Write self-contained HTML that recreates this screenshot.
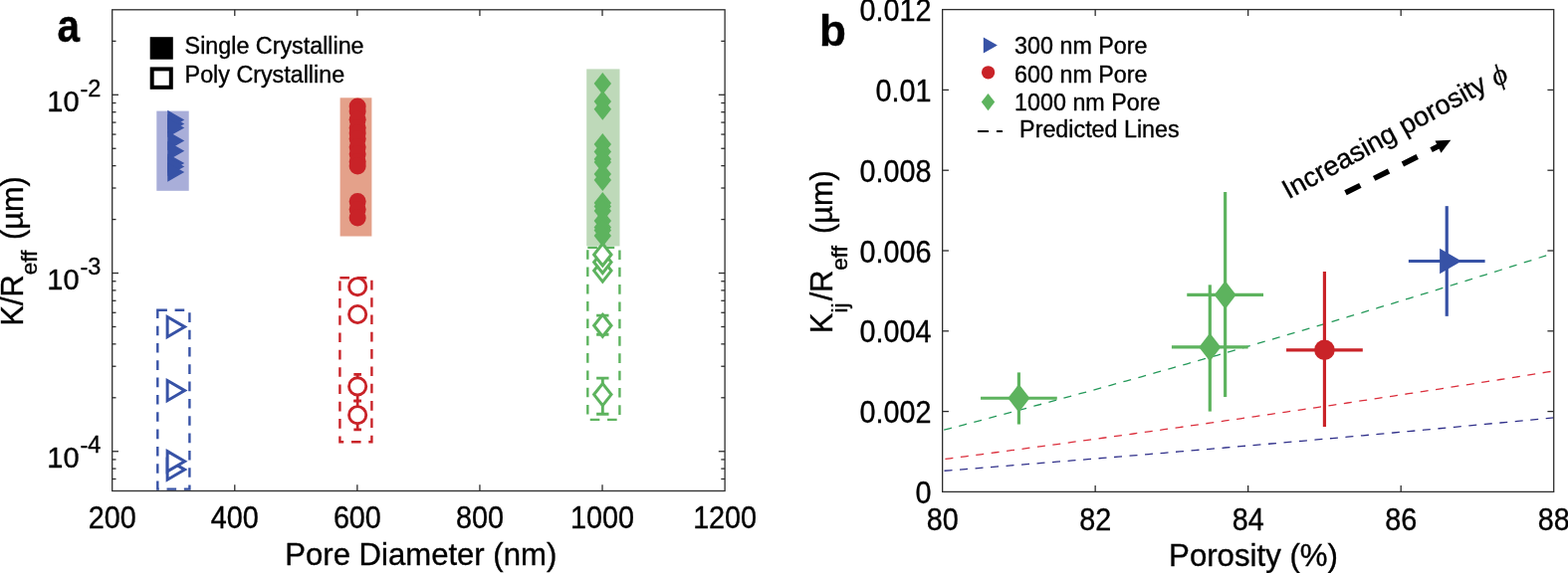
<!DOCTYPE html><html><head><meta charset="utf-8"><title>Figure</title><style>html,body{margin:0;padding:0;background:#fff;overflow:hidden}svg{display:block}text{font-family:"Liberation Sans", Arial, Helvetica, sans-serif;stroke:#000;stroke-width:0.35px;paint-order:stroke}</style></head><body>
<svg width="1575" height="576" viewBox="0 0 1575 576">
<rect width="1575" height="576" fill="#fff"/>
<defs><clipPath id="ca"><rect x="112.7" y="9.8" width="615.4" height="483.7"/></clipPath><clipPath id="cb"><rect x="946.65" y="9.6" width="614.0500000000001" height="484.79999999999995"/></clipPath></defs>
<g clip-path="url(#ca)">
<rect x="157.3" y="111.6" width="32.4" height="80.2" fill="#a9aed9"/>
<rect x="341.6" y="98.3" width="31.8" height="139.2" fill="#e4a18a"/>
<rect x="589.2" y="69.4" width="33.3" height="178" fill="#bed9b9"/>
<rect x="158.3" y="311.8" width="32.1" height="179.8" fill="none" stroke="#3752a6" stroke-width="2.4" stroke-dasharray="9.6 7.72"/>
<rect x="341.4" y="279.2" width="32" height="165" fill="none" stroke="#c92328" stroke-width="2.4" stroke-dasharray="9.6 7.72"/>
<rect x="590.3" y="248.9" width="32.1" height="173" fill="none" stroke="#5db35e" stroke-width="2.4" stroke-dasharray="9.6 7.72"/>
<polygon points="168.24,110.8 185.24,120.5 168.24,130.2" fill="#3752a6"/>
<polygon points="168.24,114.8 185.24,124.5 168.24,134.2" fill="#3752a6"/>
<polygon points="168.24,118.7 185.24,128.4 168.24,138.1" fill="#3752a6"/>
<polygon points="168.24,131.8 185.24,141.5 168.24,151.2" fill="#3752a6"/>
<polygon points="168.24,142 185.24,151.7 168.24,161.4" fill="#3752a6"/>
<polygon points="168.24,154.4 185.24,164.1 168.24,173.8" fill="#3752a6"/>
<polygon points="168.24,157.7 185.24,167.4 168.24,177.1" fill="#3752a6"/>
<polygon points="168.24,163.4 185.24,173.1 168.24,182.8" fill="#3752a6"/>
<polygon points="168.14,462 185.54,472.1 168.14,482.2" fill="#fff" stroke="#3752a6" stroke-width="3.0" stroke-miterlimit="10"/>
<polygon points="168.14,453.65 185.54,463.75 168.14,473.85" fill="#fff" stroke="#3752a6" stroke-width="3.0" stroke-miterlimit="10"/>
<polygon points="168.14,382.5 185.54,392.6 168.14,402.7" fill="#fff" stroke="#3752a6" stroke-width="3.0" stroke-miterlimit="10"/>
<polygon points="168.14,318.5 185.54,328.6 168.14,338.7" fill="#fff" stroke="#3752a6" stroke-width="3.0" stroke-miterlimit="10"/>
<circle cx="359.16" cy="107" r="8.5" fill="#c92328"/>
<circle cx="359.16" cy="112" r="8.5" fill="#c92328"/>
<circle cx="359.16" cy="120.3" r="8.5" fill="#c92328"/>
<circle cx="359.16" cy="128.6" r="8.5" fill="#c92328"/>
<circle cx="359.16" cy="134" r="8.5" fill="#c92328"/>
<circle cx="359.16" cy="139.5" r="8.5" fill="#c92328"/>
<circle cx="359.16" cy="147.8" r="8.5" fill="#c92328"/>
<circle cx="359.16" cy="154.75" r="8.5" fill="#c92328"/>
<circle cx="359.16" cy="162.4" r="8.5" fill="#c92328"/>
<circle cx="359.16" cy="167" r="8.5" fill="#c92328"/>
<circle cx="359.16" cy="202.6" r="8.5" fill="#c92328"/>
<circle cx="359.16" cy="210.5" r="8.5" fill="#c92328"/>
<circle cx="359.16" cy="219" r="8.5" fill="#c92328"/>
<line x1="359.16" y1="376.3" x2="359.16" y2="403" stroke="#c92328" stroke-width="2.7"/>
<line x1="355.36" y1="376.3" x2="362.96" y2="376.3" stroke="#c92328" stroke-width="2.7"/>
<line x1="355.36" y1="403" x2="362.96" y2="403" stroke="#c92328" stroke-width="2.7"/>
<line x1="359.16" y1="403" x2="359.16" y2="431.8" stroke="#c92328" stroke-width="2.7"/>
<line x1="355.36" y1="403" x2="362.96" y2="403" stroke="#c92328" stroke-width="2.7"/>
<line x1="355.36" y1="431.8" x2="362.96" y2="431.8" stroke="#c92328" stroke-width="2.7"/>
<circle cx="359.16" cy="417.2" r="8.6" fill="#fff" stroke="#c92328" stroke-width="2.9"/>
<circle cx="359.16" cy="388.4" r="8.6" fill="#fff" stroke="#c92328" stroke-width="2.9"/>
<circle cx="359.16" cy="316" r="8.6" fill="#fff" stroke="#c92328" stroke-width="2.9"/>
<circle cx="359.16" cy="288.2" r="8.6" fill="#fff" stroke="#c92328" stroke-width="2.9"/>
<polygon points="605.32,73.1 614.02,84.1 605.32,95.1 596.62,84.1" fill="#5db35e"/>
<polygon points="605.32,90.9 614.02,101.9 605.32,112.9 596.62,101.9" fill="#5db35e"/>
<polygon points="605.32,98.7 614.02,109.7 605.32,120.7 596.62,109.7" fill="#5db35e"/>
<polygon points="605.32,134 614.02,145 605.32,156 596.62,145" fill="#5db35e"/>
<polygon points="605.32,141.6 614.02,152.6 605.32,163.6 596.62,152.6" fill="#5db35e"/>
<polygon points="605.32,149 614.02,160 605.32,171 596.62,160" fill="#5db35e"/>
<polygon points="605.32,152 614.02,163 605.32,174 596.62,163" fill="#5db35e"/>
<polygon points="605.32,164 614.02,175 605.32,186 596.62,175" fill="#5db35e"/>
<polygon points="605.32,170 614.02,181 605.32,192 596.62,181" fill="#5db35e"/>
<polygon points="605.32,193 614.02,204 605.32,215 596.62,204" fill="#5db35e"/>
<polygon points="605.32,196.5 614.02,207.5 605.32,218.5 596.62,207.5" fill="#5db35e"/>
<polygon points="605.32,201 614.02,212 605.32,223 596.62,212" fill="#5db35e"/>
<polygon points="605.32,211 614.02,222 605.32,233 596.62,222" fill="#5db35e"/>
<polygon points="605.32,217.5 614.02,228.5 605.32,239.5 596.62,228.5" fill="#5db35e"/>
<polygon points="605.32,220.5 614.02,231.5 605.32,242.5 596.62,231.5" fill="#5db35e"/>
<polygon points="605.32,226 614.02,237 605.32,248 596.62,237" fill="#5db35e"/>
<line x1="605.32" y1="317.1" x2="605.32" y2="336.3" stroke="#5db35e" stroke-width="2.9"/>
<line x1="599.12" y1="317.1" x2="611.52" y2="317.1" stroke="#5db35e" stroke-width="2.9"/>
<line x1="599.12" y1="336.3" x2="611.52" y2="336.3" stroke="#5db35e" stroke-width="2.9"/>
<line x1="605.32" y1="380.1" x2="605.32" y2="416.3" stroke="#5db35e" stroke-width="2.9"/>
<line x1="599.12" y1="380.1" x2="611.52" y2="380.1" stroke="#5db35e" stroke-width="2.9"/>
<line x1="599.12" y1="416.3" x2="611.52" y2="416.3" stroke="#5db35e" stroke-width="2.9"/>
<polygon points="605.32,385.6 614.02,396.6 605.32,407.6 596.62,396.6" fill="#fff" stroke="#5db35e" stroke-width="3.0" stroke-miterlimit="10"/>
<polygon points="605.32,316.3 614.02,327.3 605.32,338.3 596.62,327.3" fill="#fff" stroke="#5db35e" stroke-width="3.0" stroke-miterlimit="10"/>
<polygon points="605.32,261.1 614.02,272.1 605.32,283.1 596.62,272.1" fill="#fff" stroke="#5db35e" stroke-width="3.0" stroke-miterlimit="10"/>
<polygon points="605.32,252.5 614.02,263.5 605.32,274.5 596.62,263.5" fill="#fff" stroke="#5db35e" stroke-width="3.0" stroke-miterlimit="10"/>
<polygon points="605.32,245 614.02,256 605.32,267 596.62,256" fill="#fff" stroke="#5db35e" stroke-width="3.0" stroke-miterlimit="10"/>
</g>
<rect x="112.7" y="9.8" width="615.4" height="483.7" fill="none" stroke="#2e2e2e" stroke-width="1.3"/>
<text transform="translate(112.7,531.4) scale(0.975,1.045)" font-size="29.5" text-anchor="middle" fill="#000">200</text>
<line x1="235.78" y1="493.5" x2="235.78" y2="487.2" stroke="#2e2e2e" stroke-width="1.3"/>
<line x1="235.78" y1="9.8" x2="235.78" y2="16.1" stroke="#2e2e2e" stroke-width="1.3"/>
<text transform="translate(235.78,531.4) scale(0.975,1.045)" font-size="29.5" text-anchor="middle" fill="#000">400</text>
<line x1="358.86" y1="493.5" x2="358.86" y2="487.2" stroke="#2e2e2e" stroke-width="1.3"/>
<line x1="358.86" y1="9.8" x2="358.86" y2="16.1" stroke="#2e2e2e" stroke-width="1.3"/>
<text transform="translate(358.86,531.4) scale(0.975,1.045)" font-size="29.5" text-anchor="middle" fill="#000">600</text>
<line x1="481.94" y1="493.5" x2="481.94" y2="487.2" stroke="#2e2e2e" stroke-width="1.3"/>
<line x1="481.94" y1="9.8" x2="481.94" y2="16.1" stroke="#2e2e2e" stroke-width="1.3"/>
<text transform="translate(481.94,531.4) scale(0.975,1.045)" font-size="29.5" text-anchor="middle" fill="#000">800</text>
<line x1="605.02" y1="493.5" x2="605.02" y2="487.2" stroke="#2e2e2e" stroke-width="1.3"/>
<line x1="605.02" y1="9.8" x2="605.02" y2="16.1" stroke="#2e2e2e" stroke-width="1.3"/>
<text transform="translate(605.02,531.4) scale(0.975,1.045)" font-size="29.5" text-anchor="middle" fill="#000">1000</text>
<text transform="translate(728.1,531.4) scale(0.975,1.045)" font-size="29.5" text-anchor="middle" fill="#000">1200</text>
<line x1="112.7" y1="453.74" x2="119" y2="453.74" stroke="#2e2e2e" stroke-width="1.3"/>
<line x1="728.1" y1="453.74" x2="721.8" y2="453.74" stroke="#2e2e2e" stroke-width="1.3"/>
<text transform="translate(47.3,470.24) scale(0.985,1.01)" font-size="29.5" fill="#000">10</text>
<text x="80.4" y="455.14" font-size="23.5" fill="#000">-4</text>
<line x1="112.7" y1="274.52" x2="119" y2="274.52" stroke="#2e2e2e" stroke-width="1.3"/>
<line x1="728.1" y1="274.52" x2="721.8" y2="274.52" stroke="#2e2e2e" stroke-width="1.3"/>
<text transform="translate(47.3,291.02) scale(0.985,1.01)" font-size="29.5" fill="#000">10</text>
<text x="80.4" y="275.92" font-size="23.5" fill="#000">-3</text>
<line x1="112.7" y1="95.31" x2="119" y2="95.31" stroke="#2e2e2e" stroke-width="1.3"/>
<line x1="728.1" y1="95.31" x2="721.8" y2="95.31" stroke="#2e2e2e" stroke-width="1.3"/>
<text transform="translate(47.3,111.81) scale(0.985,1.01)" font-size="29.5" fill="#000">10</text>
<text x="80.4" y="96.71" font-size="23.5" fill="#000">-2</text>
<line x1="112.7" y1="481.5" x2="116.5" y2="481.5" stroke="#2e2e2e" stroke-width="1.3"/>
<line x1="728.1" y1="481.5" x2="724.3" y2="481.5" stroke="#2e2e2e" stroke-width="1.3"/>
<line x1="112.7" y1="471.11" x2="116.5" y2="471.11" stroke="#2e2e2e" stroke-width="1.3"/>
<line x1="728.1" y1="471.11" x2="724.3" y2="471.11" stroke="#2e2e2e" stroke-width="1.3"/>
<line x1="112.7" y1="461.94" x2="116.5" y2="461.94" stroke="#2e2e2e" stroke-width="1.3"/>
<line x1="728.1" y1="461.94" x2="724.3" y2="461.94" stroke="#2e2e2e" stroke-width="1.3"/>
<line x1="112.7" y1="399.79" x2="116.5" y2="399.79" stroke="#2e2e2e" stroke-width="1.3"/>
<line x1="728.1" y1="399.79" x2="724.3" y2="399.79" stroke="#2e2e2e" stroke-width="1.3"/>
<line x1="112.7" y1="368.23" x2="116.5" y2="368.23" stroke="#2e2e2e" stroke-width="1.3"/>
<line x1="728.1" y1="368.23" x2="724.3" y2="368.23" stroke="#2e2e2e" stroke-width="1.3"/>
<line x1="112.7" y1="345.84" x2="116.5" y2="345.84" stroke="#2e2e2e" stroke-width="1.3"/>
<line x1="728.1" y1="345.84" x2="724.3" y2="345.84" stroke="#2e2e2e" stroke-width="1.3"/>
<line x1="112.7" y1="328.47" x2="116.5" y2="328.47" stroke="#2e2e2e" stroke-width="1.3"/>
<line x1="728.1" y1="328.47" x2="724.3" y2="328.47" stroke="#2e2e2e" stroke-width="1.3"/>
<line x1="112.7" y1="314.28" x2="116.5" y2="314.28" stroke="#2e2e2e" stroke-width="1.3"/>
<line x1="728.1" y1="314.28" x2="724.3" y2="314.28" stroke="#2e2e2e" stroke-width="1.3"/>
<line x1="112.7" y1="302.29" x2="116.5" y2="302.29" stroke="#2e2e2e" stroke-width="1.3"/>
<line x1="728.1" y1="302.29" x2="724.3" y2="302.29" stroke="#2e2e2e" stroke-width="1.3"/>
<line x1="112.7" y1="291.89" x2="116.5" y2="291.89" stroke="#2e2e2e" stroke-width="1.3"/>
<line x1="728.1" y1="291.89" x2="724.3" y2="291.89" stroke="#2e2e2e" stroke-width="1.3"/>
<line x1="112.7" y1="282.73" x2="116.5" y2="282.73" stroke="#2e2e2e" stroke-width="1.3"/>
<line x1="728.1" y1="282.73" x2="724.3" y2="282.73" stroke="#2e2e2e" stroke-width="1.3"/>
<line x1="112.7" y1="220.57" x2="116.5" y2="220.57" stroke="#2e2e2e" stroke-width="1.3"/>
<line x1="728.1" y1="220.57" x2="724.3" y2="220.57" stroke="#2e2e2e" stroke-width="1.3"/>
<line x1="112.7" y1="189.02" x2="116.5" y2="189.02" stroke="#2e2e2e" stroke-width="1.3"/>
<line x1="728.1" y1="189.02" x2="724.3" y2="189.02" stroke="#2e2e2e" stroke-width="1.3"/>
<line x1="112.7" y1="166.63" x2="116.5" y2="166.63" stroke="#2e2e2e" stroke-width="1.3"/>
<line x1="728.1" y1="166.63" x2="724.3" y2="166.63" stroke="#2e2e2e" stroke-width="1.3"/>
<line x1="112.7" y1="149.26" x2="116.5" y2="149.26" stroke="#2e2e2e" stroke-width="1.3"/>
<line x1="728.1" y1="149.26" x2="724.3" y2="149.26" stroke="#2e2e2e" stroke-width="1.3"/>
<line x1="112.7" y1="135.07" x2="116.5" y2="135.07" stroke="#2e2e2e" stroke-width="1.3"/>
<line x1="728.1" y1="135.07" x2="724.3" y2="135.07" stroke="#2e2e2e" stroke-width="1.3"/>
<line x1="112.7" y1="123.07" x2="116.5" y2="123.07" stroke="#2e2e2e" stroke-width="1.3"/>
<line x1="728.1" y1="123.07" x2="724.3" y2="123.07" stroke="#2e2e2e" stroke-width="1.3"/>
<line x1="112.7" y1="112.68" x2="116.5" y2="112.68" stroke="#2e2e2e" stroke-width="1.3"/>
<line x1="728.1" y1="112.68" x2="724.3" y2="112.68" stroke="#2e2e2e" stroke-width="1.3"/>
<line x1="112.7" y1="103.51" x2="116.5" y2="103.51" stroke="#2e2e2e" stroke-width="1.3"/>
<line x1="728.1" y1="103.51" x2="724.3" y2="103.51" stroke="#2e2e2e" stroke-width="1.3"/>
<line x1="112.7" y1="41.36" x2="116.5" y2="41.36" stroke="#2e2e2e" stroke-width="1.3"/>
<line x1="728.1" y1="41.36" x2="724.3" y2="41.36" stroke="#2e2e2e" stroke-width="1.3"/>
<rect x="150.7" y="37.2" width="23.1" height="22.5" fill="#000"/>
<rect x="152.7" y="69.4" width="19.1" height="18.4" fill="none" stroke="#000" stroke-width="4"/>
<text x="185.6" y="54" font-size="23.3" fill="#000">Single Crystalline</text>
<text x="185.6" y="82.6" font-size="23.3" fill="#000">Poly Crystalline</text>
<text transform="translate(57.6,42.3) scale(0.92,1.03)" font-size="44" font-weight="bold" fill="#000">a</text>
<text x="422.75" y="567.5" font-size="31.1" text-anchor="middle" fill="#000">Pore Diameter (nm)</text>
<text transform="translate(22.8,327.5) rotate(-90)" font-size="30.7" fill="#000">K/R<tspan font-size="22.5" dy="14.5">eff</tspan><tspan dy="-14.5" dx="2.3"> (µm)</tspan></text>
<g clip-path="url(#cb)">
<path d="M946.65,432.59 L954.33,430.59 L962,428.59 L969.68,426.58 L977.35,424.56 L985.03,422.54 L992.7,420.51 L1000.38,418.48 L1008.05,416.44 L1015.73,414.4 L1023.41,412.35 L1031.08,410.29 L1038.76,408.23 L1046.43,406.17 L1054.11,404.09 L1061.78,402.01 L1069.46,399.93 L1077.14,397.84 L1084.81,395.74 L1092.49,393.64 L1100.16,391.53 L1107.84,389.42 L1115.51,387.3 L1123.19,385.17 L1130.87,383.04 L1138.54,380.9 L1146.22,378.76 L1153.89,376.61 L1161.57,374.46 L1169.24,372.3 L1176.92,370.13 L1184.59,367.96 L1192.27,365.78 L1199.95,363.6 L1207.62,361.41 L1215.3,359.21 L1222.97,357.01 L1230.65,354.81 L1238.32,352.59 L1246,350.38 L1253.67,348.15 L1261.35,345.92 L1269.03,343.69 L1276.7,341.44 L1284.38,339.2 L1292.05,336.94 L1299.73,334.69 L1307.4,332.42 L1315.08,330.15 L1322.76,327.87 L1330.43,325.59 L1338.11,323.3 L1345.78,321.01 L1353.46,318.71 L1361.13,316.4 L1368.81,314.09 L1376.48,311.78 L1384.16,309.45 L1391.84,307.12 L1399.51,304.79 L1407.19,302.45 L1414.86,300.1 L1422.54,297.75 L1430.21,295.39 L1437.89,293.03 L1445.57,290.66 L1453.24,288.29 L1460.92,285.9 L1468.59,283.52 L1476.27,281.13 L1483.94,278.73 L1491.62,276.32 L1499.3,273.91 L1506.97,271.5 L1514.65,269.08 L1522.32,266.65 L1530,264.21 L1537.67,261.78 L1545.35,259.33 L1553.02,256.88 L1560.7,254.42" fill="none" stroke="#25995a" stroke-width="1.3" stroke-dasharray="8 7.55" stroke-dashoffset="-1.6"/>
<path d="M946.65,461.8 L954.33,460.8 L962,459.8 L969.68,458.79 L977.35,457.79 L985.03,456.78 L992.7,455.77 L1000.38,454.75 L1008.05,453.73 L1015.73,452.71 L1023.41,451.69 L1031.08,450.66 L1038.76,449.63 L1046.43,448.6 L1054.11,447.56 L1061.78,446.53 L1069.46,445.49 L1077.14,444.44 L1084.81,443.4 L1092.49,442.35 L1100.16,441.29 L1107.84,440.24 L1115.51,439.18 L1123.19,438.12 L1130.87,437.06 L1138.54,435.99 L1146.22,434.92 L1153.89,433.85 L1161.57,432.78 L1169.24,431.7 L1176.92,430.62 L1184.59,429.54 L1192.27,428.45 L1199.95,427.36 L1207.62,426.27 L1215.3,425.17 L1222.97,424.08 L1230.65,422.98 L1238.32,421.87 L1246,420.77 L1253.67,419.66 L1261.35,418.55 L1269.03,417.43 L1276.7,416.32 L1284.38,415.2 L1292.05,414.07 L1299.73,412.95 L1307.4,411.82 L1315.08,410.69 L1322.76,409.56 L1330.43,408.42 L1338.11,407.28 L1345.78,406.14 L1353.46,404.99 L1361.13,403.84 L1368.81,402.69 L1376.48,401.54 L1384.16,400.38 L1391.84,399.22 L1399.51,398.06 L1407.19,396.89 L1414.86,395.73 L1422.54,394.56 L1430.21,393.38 L1437.89,392.21 L1445.57,391.03 L1453.24,389.84 L1460.92,388.66 L1468.59,387.47 L1476.27,386.28 L1483.94,385.09 L1491.62,383.89 L1499.3,382.69 L1506.97,381.49 L1514.65,380.29 L1522.32,379.08 L1530,377.87 L1537.67,376.65 L1545.35,375.44 L1553.02,374.22 L1560.7,373" fill="none" stroke="#db2f3c" stroke-width="1.3" stroke-dasharray="8 7.55" stroke-dashoffset="-2.8"/>
<path d="M946.65,473.39 L954.33,472.79 L962,472.19 L969.68,471.59 L977.35,470.98 L985.03,470.37 L992.7,469.76 L1000.38,469.15 L1008.05,468.54 L1015.73,467.93 L1023.41,467.31 L1031.08,466.69 L1038.76,466.07 L1046.43,465.45 L1054.11,464.83 L1061.78,464.2 L1069.46,463.58 L1077.14,462.95 L1084.81,462.32 L1092.49,461.69 L1100.16,461.05 L1107.84,460.42 L1115.51,459.78 L1123.19,459.14 L1130.87,458.5 L1138.54,457.86 L1146.22,457.22 L1153.89,456.57 L1161.57,455.92 L1169.24,455.28 L1176.92,454.62 L1184.59,453.97 L1192.27,453.32 L1199.95,452.66 L1207.62,452 L1215.3,451.34 L1222.97,450.68 L1230.65,450.02 L1238.32,449.36 L1246,448.69 L1253.67,448.02 L1261.35,447.35 L1269.03,446.68 L1276.7,446.01 L1284.38,445.33 L1292.05,444.65 L1299.73,443.97 L1307.4,443.29 L1315.08,442.61 L1322.76,441.93 L1330.43,441.24 L1338.11,440.56 L1345.78,439.87 L1353.46,439.17 L1361.13,438.48 L1368.81,437.79 L1376.48,437.09 L1384.16,436.39 L1391.84,435.69 L1399.51,434.99 L1407.19,434.29 L1414.86,433.59 L1422.54,432.88 L1430.21,432.17 L1437.89,431.46 L1445.57,430.75 L1453.24,430.03 L1460.92,429.32 L1468.59,428.6 L1476.27,427.88 L1483.94,427.16 L1491.62,426.44 L1499.3,425.72 L1506.97,424.99 L1514.65,424.26 L1522.32,423.53 L1530,422.8 L1537.67,422.07 L1545.35,421.34 L1553.02,420.6 L1560.7,419.86" fill="none" stroke="#30308a" stroke-width="1.3" stroke-dasharray="8 7.55" stroke-dashoffset="-1.9"/>
</g>
<line x1="1023.41" y1="426.53" x2="1023.41" y2="374.41" stroke="#5db35e" stroke-width="3.2"/>
<line x1="985.03" y1="400.27" x2="1061.78" y2="400.27" stroke="#5db35e" stroke-width="3.2"/>
<line x1="1215.3" y1="413.6" x2="1215.3" y2="286.34" stroke="#5db35e" stroke-width="3.2"/>
<line x1="1176.92" y1="348.96" x2="1253.67" y2="348.96" stroke="#5db35e" stroke-width="3.2"/>
<line x1="1230.65" y1="399.06" x2="1230.65" y2="193.02" stroke="#5db35e" stroke-width="3.2"/>
<line x1="1192.27" y1="296.44" x2="1269.03" y2="296.44" stroke="#5db35e" stroke-width="3.2"/>
<line x1="1330.43" y1="428.95" x2="1330.43" y2="273.01" stroke="#c92328" stroke-width="3.2"/>
<line x1="1292.05" y1="351.79" x2="1368.81" y2="351.79" stroke="#c92328" stroke-width="3.2"/>
<line x1="1453.24" y1="317.85" x2="1453.24" y2="207.16" stroke="#3752a6" stroke-width="3.2"/>
<line x1="1414.86" y1="262.5" x2="1491.62" y2="262.5" stroke="#3752a6" stroke-width="3.2"/>
<polygon points="1023.41,386.07 1034.41,400.27 1023.41,414.47 1012.41,400.27" fill="#5db35e"/>
<polygon points="1215.3,334.76 1226.3,348.96 1215.3,363.16 1204.3,348.96" fill="#5db35e"/>
<polygon points="1230.65,282.24 1241.65,296.44 1230.65,310.64 1219.65,296.44" fill="#5db35e"/>
<circle cx="1330.43" cy="351.79" r="10.3" fill="#c92328"/>
<polygon points="1446.14,249.8 1468.14,262.5 1446.14,275.2" fill="#3752a6"/>
<rect x="946.65" y="9.6" width="614.05" height="484.8" fill="none" stroke="#2e2e2e" stroke-width="1.3"/>
<text transform="translate(946.65,532.6) scale(0.975,1.045)" font-size="29.5" text-anchor="middle" fill="#000">80</text>
<line x1="1100.16" y1="494.4" x2="1100.16" y2="488.1" stroke="#2e2e2e" stroke-width="1.3"/>
<line x1="1100.16" y1="9.6" x2="1100.16" y2="15.9" stroke="#2e2e2e" stroke-width="1.3"/>
<text transform="translate(1100.16,532.6) scale(0.975,1.045)" font-size="29.5" text-anchor="middle" fill="#000">82</text>
<line x1="1253.67" y1="494.4" x2="1253.67" y2="488.1" stroke="#2e2e2e" stroke-width="1.3"/>
<line x1="1253.67" y1="9.6" x2="1253.67" y2="15.9" stroke="#2e2e2e" stroke-width="1.3"/>
<text transform="translate(1253.67,532.6) scale(0.975,1.045)" font-size="29.5" text-anchor="middle" fill="#000">84</text>
<line x1="1407.19" y1="494.4" x2="1407.19" y2="488.1" stroke="#2e2e2e" stroke-width="1.3"/>
<line x1="1407.19" y1="9.6" x2="1407.19" y2="15.9" stroke="#2e2e2e" stroke-width="1.3"/>
<text transform="translate(1407.19,532.6) scale(0.975,1.045)" font-size="29.5" text-anchor="middle" fill="#000">86</text>
<text transform="translate(1560.7,532.6) scale(0.975,1.045)" font-size="29.5" text-anchor="middle" fill="#000">88</text>
<text transform="translate(935.5,505.9) scale(0.975,1.045)" font-size="29.5" text-anchor="end" fill="#000">0</text>
<line x1="946.65" y1="413.6" x2="952.95" y2="413.6" stroke="#2e2e2e" stroke-width="1.3"/>
<line x1="1560.7" y1="413.6" x2="1554.4" y2="413.6" stroke="#2e2e2e" stroke-width="1.3"/>
<text transform="translate(935.5,425.1) scale(0.975,1.045)" font-size="29.5" text-anchor="end" fill="#000">0.002</text>
<line x1="946.65" y1="332.8" x2="952.95" y2="332.8" stroke="#2e2e2e" stroke-width="1.3"/>
<line x1="1560.7" y1="332.8" x2="1554.4" y2="332.8" stroke="#2e2e2e" stroke-width="1.3"/>
<text transform="translate(935.5,344.3) scale(0.975,1.045)" font-size="29.5" text-anchor="end" fill="#000">0.004</text>
<line x1="946.65" y1="252" x2="952.95" y2="252" stroke="#2e2e2e" stroke-width="1.3"/>
<line x1="1560.7" y1="252" x2="1554.4" y2="252" stroke="#2e2e2e" stroke-width="1.3"/>
<text transform="translate(935.5,263.5) scale(0.975,1.045)" font-size="29.5" text-anchor="end" fill="#000">0.006</text>
<line x1="946.65" y1="171.2" x2="952.95" y2="171.2" stroke="#2e2e2e" stroke-width="1.3"/>
<line x1="1560.7" y1="171.2" x2="1554.4" y2="171.2" stroke="#2e2e2e" stroke-width="1.3"/>
<text transform="translate(935.5,182.7) scale(0.975,1.045)" font-size="29.5" text-anchor="end" fill="#000">0.008</text>
<line x1="946.65" y1="90.4" x2="952.95" y2="90.4" stroke="#2e2e2e" stroke-width="1.3"/>
<line x1="1560.7" y1="90.4" x2="1554.4" y2="90.4" stroke="#2e2e2e" stroke-width="1.3"/>
<text transform="translate(935.5,101.9) scale(0.975,1.045)" font-size="29.5" text-anchor="end" fill="#000">0.01</text>
<text transform="translate(935.5,21.1) scale(0.975,1.045)" font-size="29.5" text-anchor="end" fill="#000">0.012</text>
<polygon points="987.8,37.55 1001.9,45.5 987.8,53.45" fill="#3752a6"/>
<circle cx="992.6" cy="72.8" r="6.65" fill="#c92328"/>
<polygon points="992.5,93.9 999.2,102.6 992.5,111.3 985.8,102.6" fill="#5db35e"/>
<line x1="982" y1="132" x2="1007" y2="132" stroke="#000" stroke-width="2.2" stroke-dasharray="11 8"/>
<text x="1019.1" y="54.1" font-size="23.3" fill="#000">300 nm Pore</text>
<text x="1019.1" y="82.7" font-size="23.3" fill="#000">600 nm Pore</text>
<text x="1019.1" y="111" font-size="23.3" fill="#000">1000 nm Pore</text>
<text x="1024.1" y="137.7" font-size="23.3" fill="#000">Predicted Lines</text>
<text x="823" y="45.5" font-size="44" font-weight="bold" fill="#000">b</text>
<text x="1259" y="569.2" font-size="31.2" text-anchor="middle" fill="#000">Porosity (%)</text>
<text transform="translate(836,335) rotate(-90)" font-size="30.7" fill="#000">K<tspan font-size="22.5" dy="14.5">ij</tspan><tspan dy="-14.5" dx="2.2">/R</tspan><tspan font-size="22.5" dy="14.5">eff</tspan><tspan dy="-14.5" dx="3.5"> (µm)</tspan></text>
<text transform="translate(1294.3,200.6) rotate(-28.8)" font-size="27.3" fill="#000">Increasing porosity <tspan font-family="'Liberation Serif', serif" font-style="italic" font-size="29" dx="1.2" dy="1.3">ϕ</tspan></text>
<path d="M1351.5,193.8 L1451,143.9" stroke="#000" stroke-width="5.5" stroke-dasharray="16.6 15.5" fill="none"/>
<polygon points="1457.3,140.7 1441.5,141.5 1447.5,153.7" fill="#000"/>
</svg></body></html>
